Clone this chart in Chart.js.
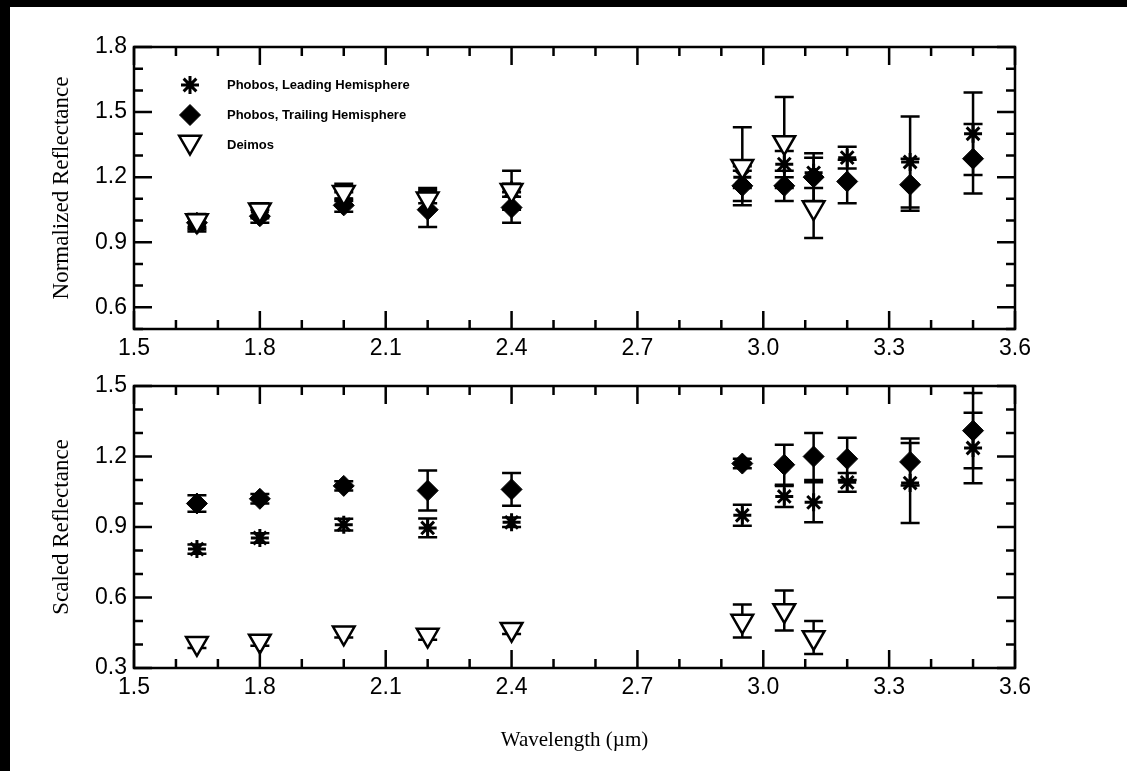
<!DOCTYPE html>
<html>
<head>
<meta charset="utf-8">
<script src="https://cdn.jsdelivr.net/npm/chart.js@4.4.1/dist/chart.umd.min.js"></script>
<style>
  html, body { margin: 0; padding: 0; background: #000; }
  body { width: 1127px; height: 771px; position: relative; overflow: hidden; }
  .paper { position: absolute; left: 10px; top: 7px; right: 0; bottom: 0; background: #fff; }
  canvas { position: absolute; left: 0; }
  .norm-chart { top: 0; }
  .scaled-chart { top: 360px; }
</style>
</head>
<body>
<div class="paper"></div>
<canvas class="norm-chart" width="1127" height="360"></canvas>
<canvas class="scaled-chart" width="1127" height="411"></canvas>
<script>
const seriesNames = ['Phobos, Leading Hemisphere', 'Phobos, Trailing Hemisphere', 'Deimos'];
const wavelengths = [1.65, 1.8, 2.0, 2.2, 2.4, 2.95, 3.05, 3.12, 3.2, 3.35, 3.5];
const deimosWavelengths = [1.65, 1.8, 2.0, 2.2, 2.4, 2.95, 3.05, 3.12];

// top panel - normalized reflectance (value, +/- error)
const normLeading = [0.98, 1.04, 1.10, 1.11, 1.14, 1.20, 1.26, 1.22, 1.29, 1.27, 1.40];
const normLeadingErr = [0.03, 0.03, 0.03, 0.03, 0.03, 0.05, 0.06, 0.07, 0.05, 0.21, 0.19];
const normTrailing = [0.99, 1.02, 1.07, 1.05, 1.06, 1.16, 1.16, 1.20, 1.18, 1.165, 1.285];
const normTrailingErr = [0.03, 0.03, 0.03, 0.08, 0.07, 0.07, 0.07, 0.11, 0.10, 0.12, 0.16];
const normDeimos = [1.00, 1.05, 1.13, 1.10, 1.14, 1.25, 1.36, 1.06];
const normDeimosErr = [0.03, 0.03, 0.04, 0.05, 0.09, 0.18, 0.21, 0.14];

// bottom panel - scaled reflectance
const scLeading = [0.806, 0.853, 0.91, 0.896, 0.92, 0.95, 1.03, 1.005, 1.09, 1.087, 1.236];
const scLeadingErr = [0.02, 0.02, 0.025, 0.04, 0.02, 0.045, 0.045, 0.085, 0.04, 0.17, 0.15];
const scTrailing = [1.00, 1.02, 1.075, 1.055, 1.06, 1.17, 1.165, 1.20, 1.19, 1.177, 1.31];
const scTrailingErr = [0.035, 0.02, 0.02, 0.085, 0.07, 0.02, 0.085, 0.10, 0.09, 0.10, 0.16];
const scDeimos = [0.405, 0.415, 0.45, 0.44, 0.465, 0.50, 0.545, 0.43];
const scDeimosErr = [0.02, 0.02, 0.02, 0.02, 0.02, 0.07, 0.085, 0.07];

const sans = "'Liberation Sans', Arial, sans-serif";
const serif = "'Liberation Serif', 'Times New Roman', serif";

const isMajor = v => Math.round(v * 10) % 3 === 0;
const tickLabel = v => isMajor(v) ? (Math.round(v * 10) / 10).toFixed(1) : '';

// error bars, frame, inward ticks and the legend
const paperPlot = {
  id: 'paperPlot',
  beforeDatasetsDraw(chart) {
    const ctx = chart.ctx, xs = chart.scales.x, ys = chart.scales.y;
    ctx.save();
    ctx.strokeStyle = '#000';
    ctx.lineWidth = 2.5;
    chart.data.datasets.forEach(ds => {
      ds.data.forEach((p, i) => {
        const e = ds.errors[i];
        const px = xs.getPixelForValue(p.x);
        const top = ys.getPixelForValue(p.y + e), bot = ys.getPixelForValue(p.y - e);
        ctx.beginPath();
        ctx.moveTo(px, top); ctx.lineTo(px, bot);
        ctx.moveTo(px - 9.5, top); ctx.lineTo(px + 9.5, top);
        ctx.moveTo(px - 9.5, bot); ctx.lineTo(px + 9.5, bot);
        ctx.stroke();
      });
    });
    ctx.restore();
  },
  afterDraw(chart, args, opts) {
    const ctx = chart.ctx, a = chart.chartArea, xs = chart.scales.x, ys = chart.scales.y;
    ctx.save();
    ctx.strokeStyle = '#000';
    ctx.lineWidth = 2.5;
    ctx.strokeRect(a.left, a.top, a.right - a.left, a.bottom - a.top);
    ctx.beginPath();
    xs.ticks.forEach(t => {
      const px = xs.getPixelForValue(t.value), len = isMajor(t.value) ? 18 : 9;
      ctx.moveTo(px, a.bottom); ctx.lineTo(px, a.bottom - len);
      ctx.moveTo(px, a.top); ctx.lineTo(px, a.top + len);
    });
    ys.ticks.forEach(t => {
      const py = ys.getPixelForValue(t.value), len = isMajor(t.value) ? 18 : 9;
      ctx.moveTo(a.left, py); ctx.lineTo(a.left + len, py);
      ctx.moveTo(a.right, py); ctx.lineTo(a.right - len, py);
    });
    ctx.stroke();

    if (opts.legend) {
      const rows = [[0, 38], [1, 68], [2, 97]];
      const byName = {};
      chart.data.datasets.forEach(ds => { byName[ds.label] = ds; });
      ctx.font = 'bold 13px ' + sans;
      ctx.textBaseline = 'middle';
      rows.forEach(([k, dy]) => {
        const ds = byName[seriesNames[k]];
        const y = a.top + dy;
        ctx.fillStyle = ds.pointBackgroundColor;
        ctx.strokeStyle = ds.pointBorderColor;
        ctx.lineWidth = ds.pointBorderWidth;
        Chart.helpers.drawPoint(ctx, {
          pointStyle: ds.pointStyle, rotation: ds.pointRotation || 0,
          radius: ds.pointRadius, borderWidth: ds.pointBorderWidth
        }, a.left + 56, k === 2 ? y - 2 : y);
        ctx.fillStyle = '#000';
        ctx.fillText(seriesNames[k], a.left + 93, k === 2 ? y + 1 : y);
      });
    }
    ctx.restore();
  }
};

function makeDatasets(lead, leadErr, trail, trailErr, dei, deiErr) {
  return [
    {
      label: seriesNames[2],
      data: deimosWavelengths.map((x, i) => ({ x, y: dei[i] })),
      errors: deiErr,
      pointStyle: 'triangle', pointRotation: 180, pointRadius: 12.5,
      pointBackgroundColor: '#fff', pointBorderColor: '#000', pointBorderWidth: 2.5,
      order: 0
    },
    {
      label: seriesNames[1],
      data: wavelengths.map((x, i) => ({ x, y: trail[i] })),
      errors: trailErr,
      pointStyle: 'rectRot', pointRadius: 10.5,
      pointBackgroundColor: '#000', pointBorderColor: '#000', pointBorderWidth: 1,
      order: 1
    },
    {
      label: seriesNames[0],
      data: wavelengths.map((x, i) => ({ x, y: lead[i] })),
      errors: leadErr,
      pointStyle: 'star', pointRadius: 9,
      pointBackgroundColor: '#000', pointBorderColor: '#000', pointBorderWidth: 3,
      order: 2
    }
  ];
}

function makeOptions(cfg) {
  return {
    responsive: false,
    animation: false,
    events: [],
    layout: { padding: { top: cfg.top, right: 112, bottom: 0, left: 0 } },
    scales: {
      x: {
        type: 'linear', min: 1.5, max: 3.6,
        afterFit(scale) { scale.height = cfg.xHeight; },
        grid: { display: false, drawTicks: false },
        border: { display: false },
        ticks: {
          stepSize: 0.1, autoSkip: false, maxRotation: 0, padding: 6,
          color: '#000', font: { family: sans, size: 23 },
          callback: tickLabel
        },
        title: cfg.xTitle ? {
          display: true, text: cfg.xTitle, color: '#000',
          font: { family: serif, size: 21 }, padding: { bottom: 18 }
        } : { display: false }
      },
      y: {
        type: 'linear', min: cfg.yMin, max: cfg.yMax,
        afterFit(scale) { scale.width = 134; },
        grid: { display: false, drawTicks: false },
        border: { display: false },
        ticks: {
          stepSize: 0.1, autoSkip: false, padding: 7,
          color: '#000', font: { family: sans, size: 23 },
          callback: tickLabel
        },
        title: {
          display: true, text: cfg.yTitle, color: '#000',
          font: { family: serif, size: 23 }, padding: { top: 48 }
        }
      }
    },
    plugins: {
      legend: { display: false },
      tooltip: { enabled: false },
      paperPlot: { legend: cfg.legend }
    }
  };
}

new Chart(document.querySelector('.norm-chart'), {
  type: 'scatter',
  data: { datasets: makeDatasets(normLeading, normLeadingErr, normTrailing, normTrailingErr, normDeimos, normDeimosErr) },
  options: makeOptions({ top: 47, xHeight: 31, yMin: 0.5, yMax: 1.8, yTitle: 'Normalized Reflectance', legend: true }),
  plugins: [paperPlot]
});

new Chart(document.querySelector('.scaled-chart'), {
  type: 'scatter',
  data: { datasets: makeDatasets(scLeading, scLeadingErr, scTrailing, scTrailingErr, scDeimos, scDeimosErr) },
  options: makeOptions({ top: 26, xHeight: 103, yMin: 0.3, yMax: 1.5, yTitle: 'Scaled Reflectance', xTitle: 'Wavelength (\u00b5m)', legend: false }),
  plugins: [paperPlot]
});
</script>
</body>
</html>
